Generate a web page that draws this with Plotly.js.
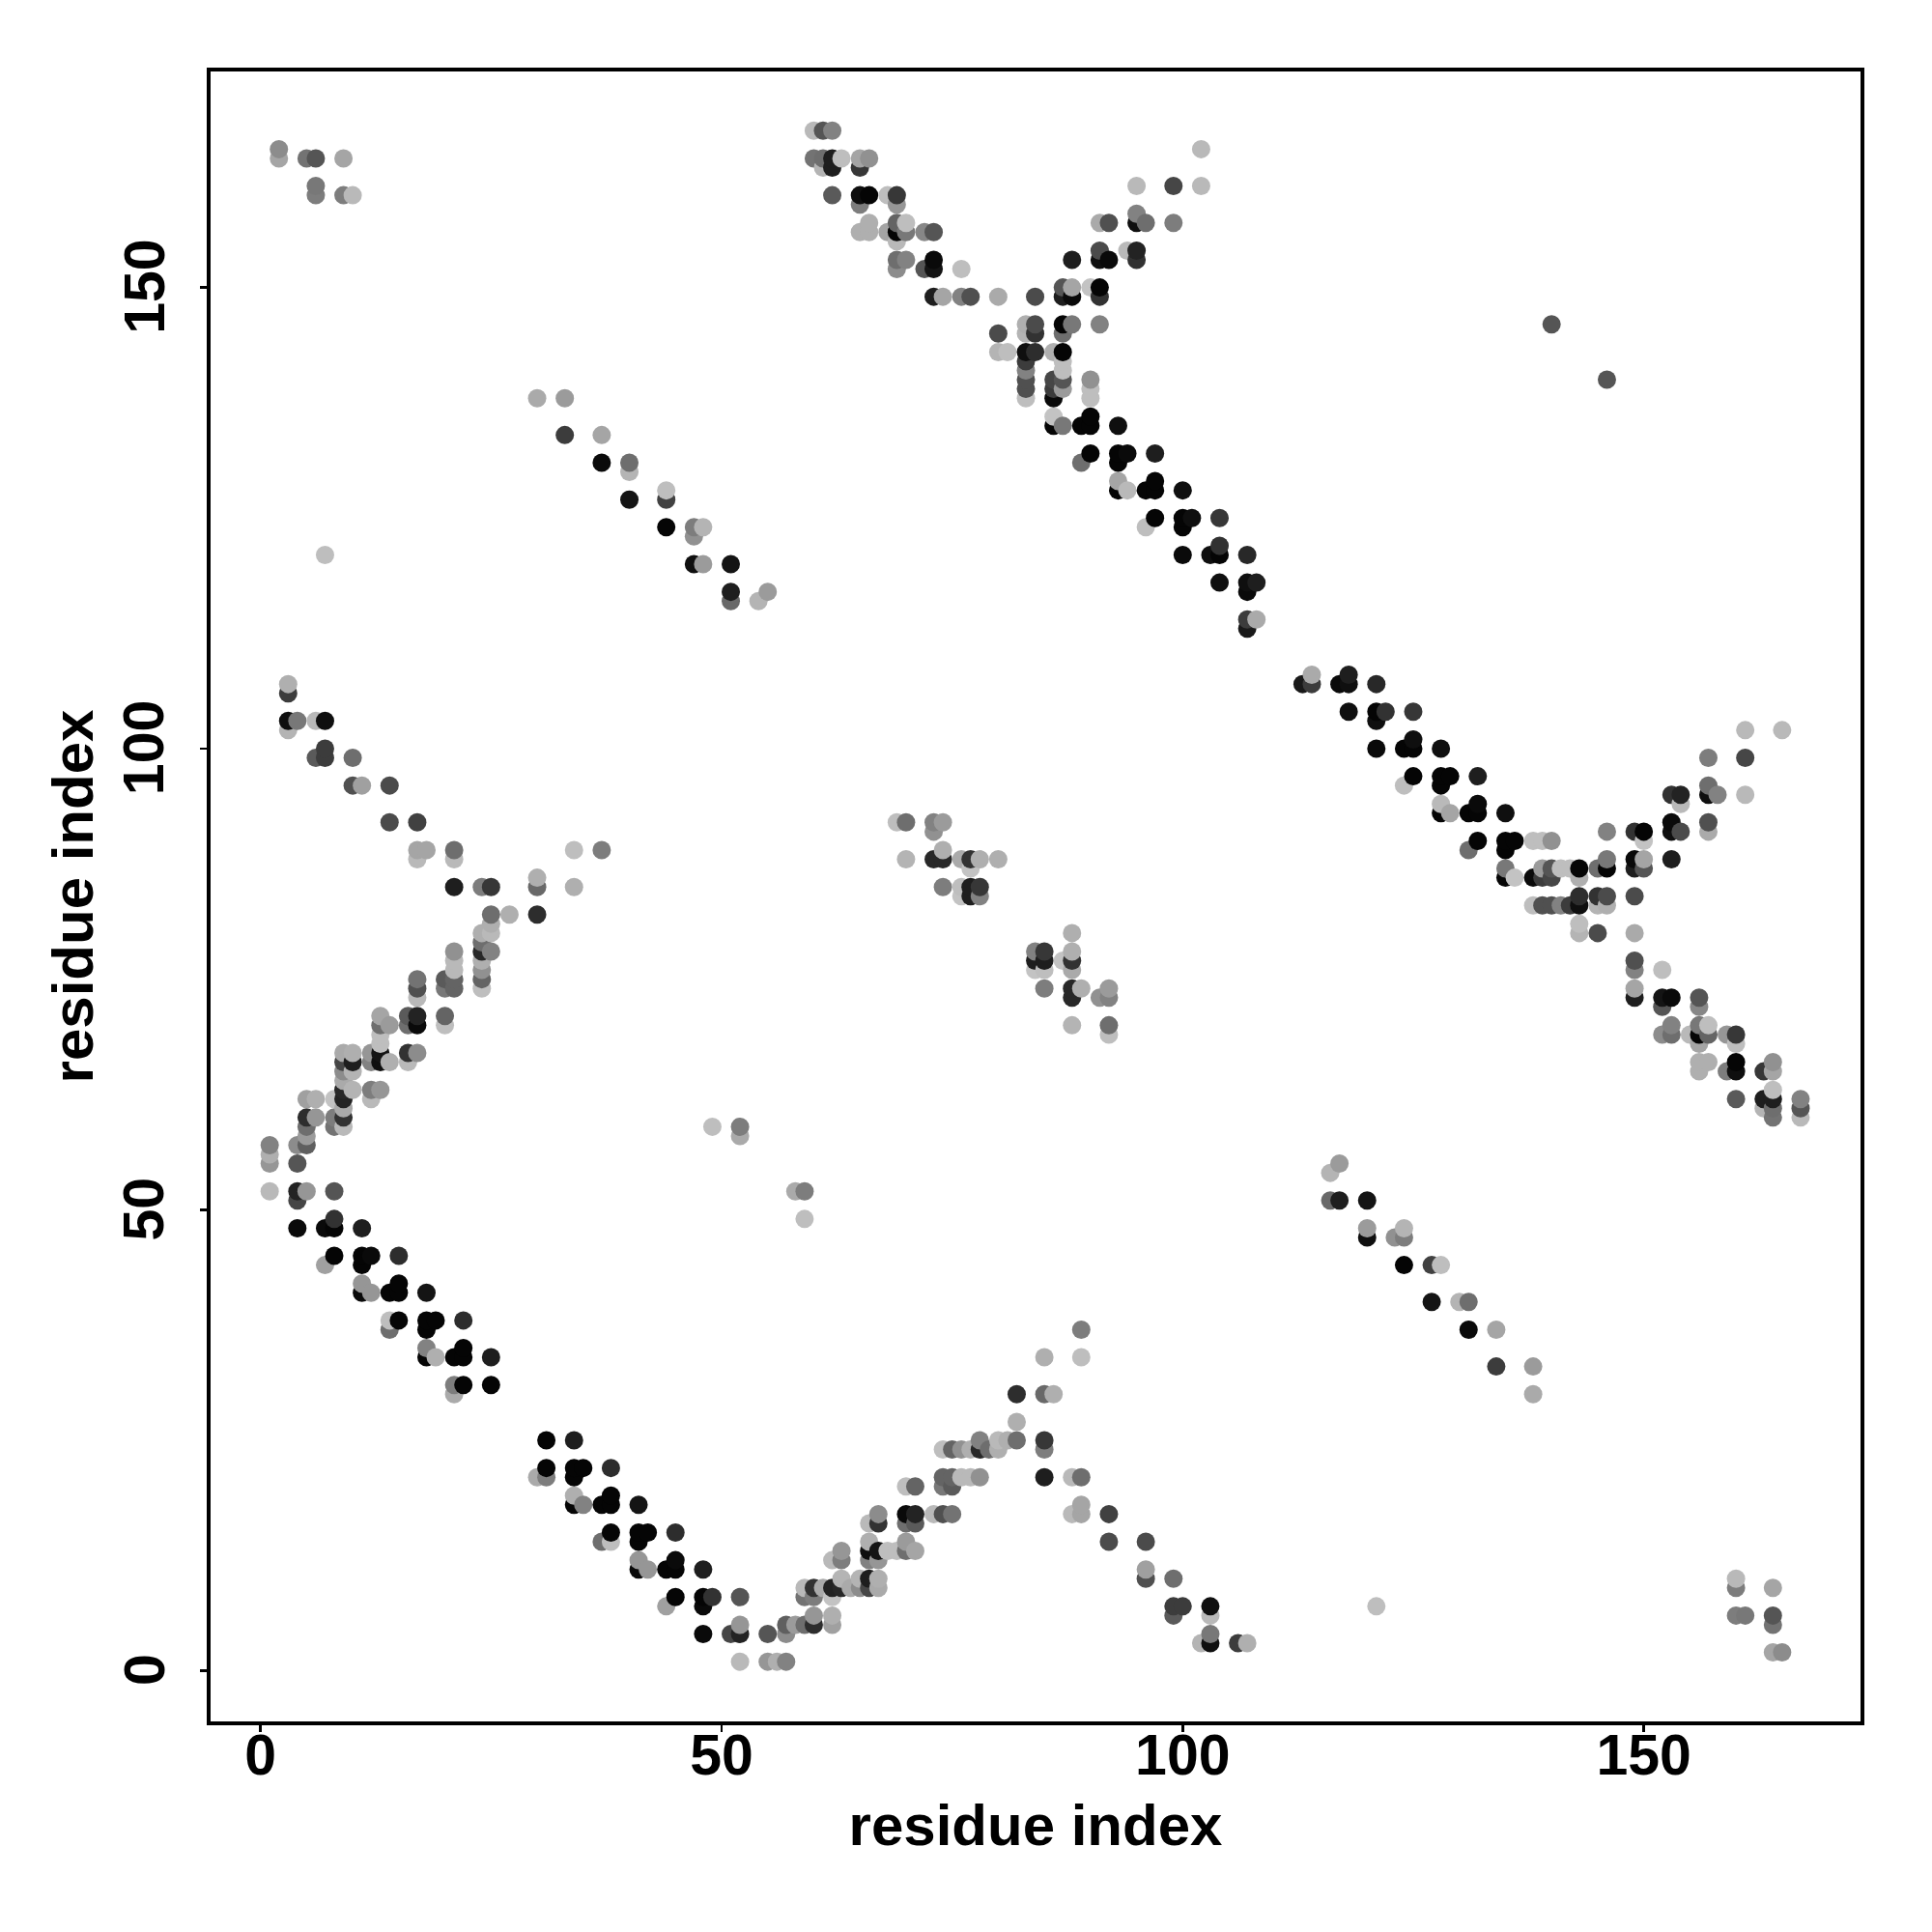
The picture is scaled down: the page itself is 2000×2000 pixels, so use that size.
<!DOCTYPE html>
<html><head><meta charset="utf-8">
<script src="https://cdn.plot.ly/plotly-3.0.1.min.js"></script>
<style>html,body{margin:0;padding:0;background:#fff}</style></head>
<body><div id="chart" style="width:2000px;height:2000px"></div>
<script>
// Contact map: residue pairs (i<j); the map is symmetric.
const residueI = [
 2,2,5,6,9,6,6,9,10,7,
 30,33,33,37,37,40,40,40,44,44,44,47,47,48,47,48,51,51,51,54,55,
 3,3,3,4,3,6,7,6,7,7,10,10,11,14,14,17,17,18,17,21,21,34,37,21,24,25,30,30,34,25,27,30,
 25,25,24,24,24,25,24,24,24,24,21,21,21,21,21,20,20,17,17,17,
 20,20,17,17,16,16,13,13,14,13,13,13,13,12,12,14,16,17,16,
 9,10,9,10,9,10,9,10,9,9,8,9,9,9,8,8,12,13,12,5,6,5,6,5,5,5,4,4,1,1,1,1,4,5,4,8,
 4,7,8,8,11,8,11,12,11,7,15,11,11,12,14,15,15,18,14,14,15,18,19,18,22,18,18,19,21,22,22,25,21,21,22,25,
 60,61,62,60,61,62,63,61,62,65,66,65,62,65,66,68,69,65,69,66,65,66,68,69,70,69,70,69,72,73,69,70,69,72,73,73,76,
 73,74,76,77,80,84,87,88,87,88,90,91,91,88,91,92,91,94,95,95,91,92,95,95,96,99,95,99,102,102,
 91,87,88,87,80,83,84,83,84,80,81,83,84,86,87,83,83,83,83,83,87,87,87,87,86,86,86,90,90,90,
 86,86,87,89,90,90,93,90,89,93,94,93,97,93,93,94,96,97,97,100,96,97,100,101,100,104,100,103,104,104,107,104,107,108,107,107,108,107,
 69,70,73,74,73,70,73,74,74,76,77,78,80,77,74,76,77,78,76,77,78,
 49,52,52,140
];
const residueJ = [
 164,165,164,164,164,161,160,160,160,121,
 138,138,134,134,131,130,131,127,127,128,124,123,124,124,120,120,120,116,117,116,117,
 107,106,103,103,102,103,103,99,100,99,99,96,96,96,92,92,89,89,88,89,88,89,89,85,85,85,85,86,85,82,82,82,
 81,80,80,79,78,78,77,76,75,74,78,77,76,75,74,75,74,75,74,73,
 71,70,71,70,71,70,71,70,70,69,68,67,66,67,66,66,67,67,66,
 67,67,66,66,65,65,64,63,63,62,62,61,60,59,60,59,63,63,62,62,62,60,60,59,58,57,57,55,57,56,55,52,52,52,51,52,
 48,48,48,49,48,45,45,45,44,44,45,42,41,41,41,41,42,41,38,37,38,38,38,37,38,35,34,34,34,34,35,34,31,30,31,31,
 167,167,167,164,164,164,164,163,163,164,164,163,160,160,160,160,160,159,159,157,156,156,156,157,157,156,156,155,156,156,153,153,152,152,153,152,152,
 149,149,149,149,149,149,150,150,149,149,150,150,149,153,153,153,154,154,154,153,157,157,158,157,157,157,161,161,161,165,
 146,146,146,145,145,146,146,145,145,143,143,143,143,143,143,142,141,140,139,138,142,141,140,139,140,139,138,140,139,138,
 136,135,135,135,135,136,135,132,131,132,132,131,132,129,128,128,128,128,129,128,124,125,125,125,124,125,121,121,121,122,121,118,118,118,117,114,114,113,
 92,92,92,92,91,88,88,88,89,88,88,88,88,87,85,85,85,85,84,84,84,
 59,59,58,146
];
const contactGrey = [
 165,140,115,85,165,120,125,125,185,190,
 170,155,60,165,10,180,110,20,65,190,5,145,125,180,15,155,20,105,30,180,155,
 175,60,15,120,180,185,15,90,60,60,110,80,160,75,75,65,165,165,185,110,185,190,125,30,125,55,105,175,175,110,175,45,
 175,185,175,110,40,130,175,145,100,190,145,185,185,100,100,90,120,115,80,185,
 100,190,35,10,90,110,165,110,155,190,190,20,15,150,130,175,50,140,185,
 170,175,70,30,140,180,170,180,40,35,195,170,50,185,125,115,125,150,185,160,175,45,150,110,155,95,140,85,130,175,150,185,35,150,70,85,
 10,10,5,50,30,5,5,10,5,160,45,150,10,150,5,5,5,20,190,110,5,5,5,5,45,130,5,175,5,5,5,30,125,170,5,5,
 185,85,130,115,110,30,190,180,30,165,145,55,90,15,5,190,55,125,150,175,175,175,165,100,190,5,120,185,135,85,110,130,140,85,10,20,190,
 30,165,130,80,170,75,85,165,30,10,195,5,50,30,15,10,75,185,35,50,170,80,130,15,110,125,185,70,185,185,
 130,5,120,110,75,175,75,180,50,180,190,15,45,175,5,60,130,80,80,190,190,190,85,155,70,60,10,145,190,190,
 195,5,120,5,5,5,15,5,110,5,10,5,30,165,5,185,5,5,5,15,190,5,5,15,5,55,10,15,5,50,40,15,15,30,10,60,170,25,
 190,110,130,155,145,180,40,40,175,170,50,175,175,195,125,190,30,55,195,30,130,
 190,125,170,85
];
const axisTicks = [0, 50, 100, 150];
const axisTickLabels = ['0', '50', '100', '150'];
const axisTitleText = 'residue index';

const rawX = residueI.concat(residueJ);
const rawY = residueJ.concat(residueI);
const rawG = contactGrey.concat(contactGrey);
// R draws in order of increasing x, then y: later marks sit on top.
const order = rawX.map((_, k) => k).sort((a, b) => rawX[a] - rawX[b] || rawY[a] - rawY[b]);

const font = 'Liberation Sans, Arial, sans-serif';
const tickFont = {family: font, size: 59, color: '#000', weight: 700};
const titleFont = {family: font, size: 60, color: '#000', weight: 700};
const axisBase = {
  showgrid: false, zeroline: false,
  showline: true, mirror: true, linecolor: '#000', linewidth: 3.7,
  ticks: 'outside', ticklen: 7, tickwidth: 2.8, tickcolor: '#000',
  tickmode: 'array', tickvals: axisTicks, ticktext: axisTickLabels,
  tickfont: tickFont
};
Plotly.newPlot('chart', [{
  type: 'scatter', mode: 'markers',
  x: order.map(k => rawX[k]),
  y: order.map(k => rawY[k]),
  marker: {size: 19, color: order.map(k => `rgb(${rawG[k]},${rawG[k]},${rawG[k]})`), line: {width: 0}},
  cliponaxis: false, hoverinfo: 'x+y'
}], {
  width: 2000, height: 2000, showlegend: false,
  paper_bgcolor: '#fff', plot_bgcolor: '#fff',
  margin: {l: 217.8, r: 73.6, t: 74, b: 217.85, pad: 0},
  xaxis: Object.assign({}, axisBase, {
    range: [-5.41, 173.5],
    ticklabelstandoff: -27,
    title: {text: axisTitleText, standoff: 20, font: titleFont}
  }),
  yaxis: Object.assign({}, axisBase, {
    range: [-5.48, 173.42],
    showticklabels: false,
    title: {text: axisTitleText, standoff: 92, font: titleFont}
  }),
  // Rotated y tick labels centred on their ticks, as in the reference.
  annotations: axisTicks.map((v, k) => ({
    xref: 'paper', x: 0, xshift: -68.8, xanchor: 'center',
    yref: 'y', y: v, yanchor: 'middle', yshift: 1,
    text: axisTickLabels[k], textangle: -90, showarrow: false, font: tickFont
  }))
}, {staticPlot: true, displayModeBar: false});
</script></body></html>
